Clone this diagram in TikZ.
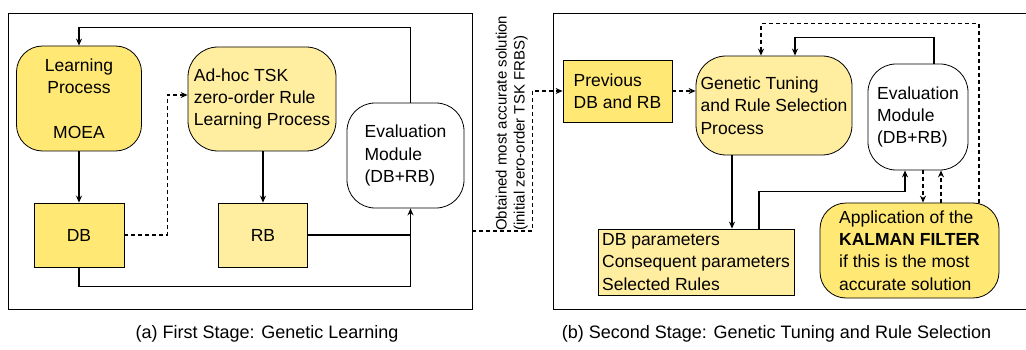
\documentclass[tikz,border=0pt]{standalone}
\usepackage{fontspec}
\setmainfont{Liberation Sans}
\usetikzlibrary{arrows.meta,positioning}
\definecolor{ydark}{RGB}{255,232,115}
\definecolor{ylight}{RGB}{255,237,160}
\tikzset{
    box/.style={draw, line width=0.8pt, inner sep=0pt, align=left, font=\fontsize{17.5}{22.3}\selectfont},
    roundbox/.style={box, rounded corners=#1},
    roundbox/.default=26pt,
    frame/.style={draw, line width=0.8pt, inner sep=0pt},
    flow/.style={line width=1.1pt, -{Stealth[length=7pt,width=6pt]}},
    dashflow/.style={flow, dash pattern=on 4pt off 3pt},
    joinline/.style={line width=1.1pt},
    caption/.style={font=\fontsize{18}{22}\selectfont}
}
\begin{document}
\begin{tikzpicture}[x=1pt,y=-1pt]
    \useasboundingbox (0,0) rectangle (1026,350);
    \node[frame, minimum width=464pt, minimum height=296pt] (stageA) at (240,161) {};
    \node[frame, minimum width=480pt, minimum height=296pt, anchor=north west] (stageB) at (553,13) {};

    \node[roundbox, fill=ydark, align=center, minimum width=125pt, minimum height=105pt] (learn) at (79,98.5) {Learning\\Process\\[22pt]MOEA};
    \node[box, fill=ydark, minimum width=90pt, minimum height=64pt] (dbA) at (79,235) {DB};
    \node[roundbox=30pt, fill=ylight, minimum width=148pt, minimum height=104pt] (adhoc) at (262,99) {Ad-hoc TSK\\zero-order Rule\\Learning Process};
    \node[box, fill=ylight, minimum width=89pt, minimum height=64pt] (rbA) at (263,235) {RB};
    \node[roundbox=28pt, fill=white, minimum width=117pt, minimum height=105pt] (evalA) at (405.5,155.5) {Evaluation\\Module\\(DB+RB)};
    \coordinate (evAin) at ([xshift=5pt]evalA.south);

    \draw[flow] (learn) -- (dbA);
    \draw[flow] (adhoc.south -| rbA.north) -- (rbA.north);
    \draw[dashflow] (dbA.east) -- ++(43,0) |- ([yshift=4pt]adhoc.west);
    \draw[joinline] (rbA.east) -- (rbA.east -| evAin);
    \draw[flow] (dbA.south) -- ++(0,19) -| (evAin);
    \draw[flow] ([xshift=5pt]evalA.north) -- ++(0,-75) -| (learn.north);

    \node[box, fill=ydark, minimum width=109pt, minimum height=62pt] (prev) at (617.5,91) {Previous\\DB and RB};
    \node[roundbox=30pt, fill=ylight, minimum width=156pt, minimum height=99pt] (genetic) at (774,105.5) {Genetic Tuning\\and Rule Selection\\Process};
    \node[roundbox=28pt, fill=white, minimum width=100pt, minimum height=106pt] (evalB) at (918,117) {Evaluation\\Module\\(DB+RB)};
    \node[box, fill=ylight, minimum width=196pt, minimum height=66pt] (params) at (696,262) {DB parameters\\Consequent parameters\\Selected Rules};
    \node[roundbox=26pt, fill=ydark, minimum width=179pt, minimum height=95pt] (kalman) at (909.5,250.5) {Application of the\\\textbf{KALMAN FILTER}\\if this is the most\\accurate solution};
    \coordinate (gtout) at ([xshift=36pt]params.north);
    \coordinate (evBin) at ([xshift=-13pt]evalB.south);
    \coordinate (evBd) at ([xshift=5pt]evalB.south);
    \coordinate (evBu) at ([xshift=23pt]evalB.south);

    \node[rotate=90, anchor=south west, inner sep=0pt, align=left, font=\fontsize{15}{18}\selectfont] (solLabel) at (528,231) {Obtained most accurate solution\\(initial zero-order TSK FRBS)};
    \draw[dashflow] ([yshift=-70pt]stageA.east) -- ++(60,0) |- (prev.west);
    \draw[dashflow] (prev.east) -- (prev.east -| genetic.west);
    \draw[flow] (genetic.south -| gtout) -- (gtout);
    \draw[flow] ([xshift=63pt]params.north) -- ++(0,-37) -| (evBin);
    \draw[flow] ([xshift=16pt]evalB.north) -- ++(0,-26) -| ([xshift=21pt]genetic.north);
    \draw[dashflow] ([xshift=69.5pt]kalman.north) -- ++(0,-179) -| ([xshift=-13pt]genetic.north);
    \draw[dashflow] (evBd) -- (evBd |- kalman.north);
    \draw[dashflow] (evBu |- kalman.north) -- (evBu);

    \node[caption] (capA) at (267,334) {(a) First Stage: Genetic Learning};
    \node[caption] (capB) at (776.5,334) {(b) Second Stage: Genetic Tuning and Rule Selection};
\end{tikzpicture}
\end{document}
